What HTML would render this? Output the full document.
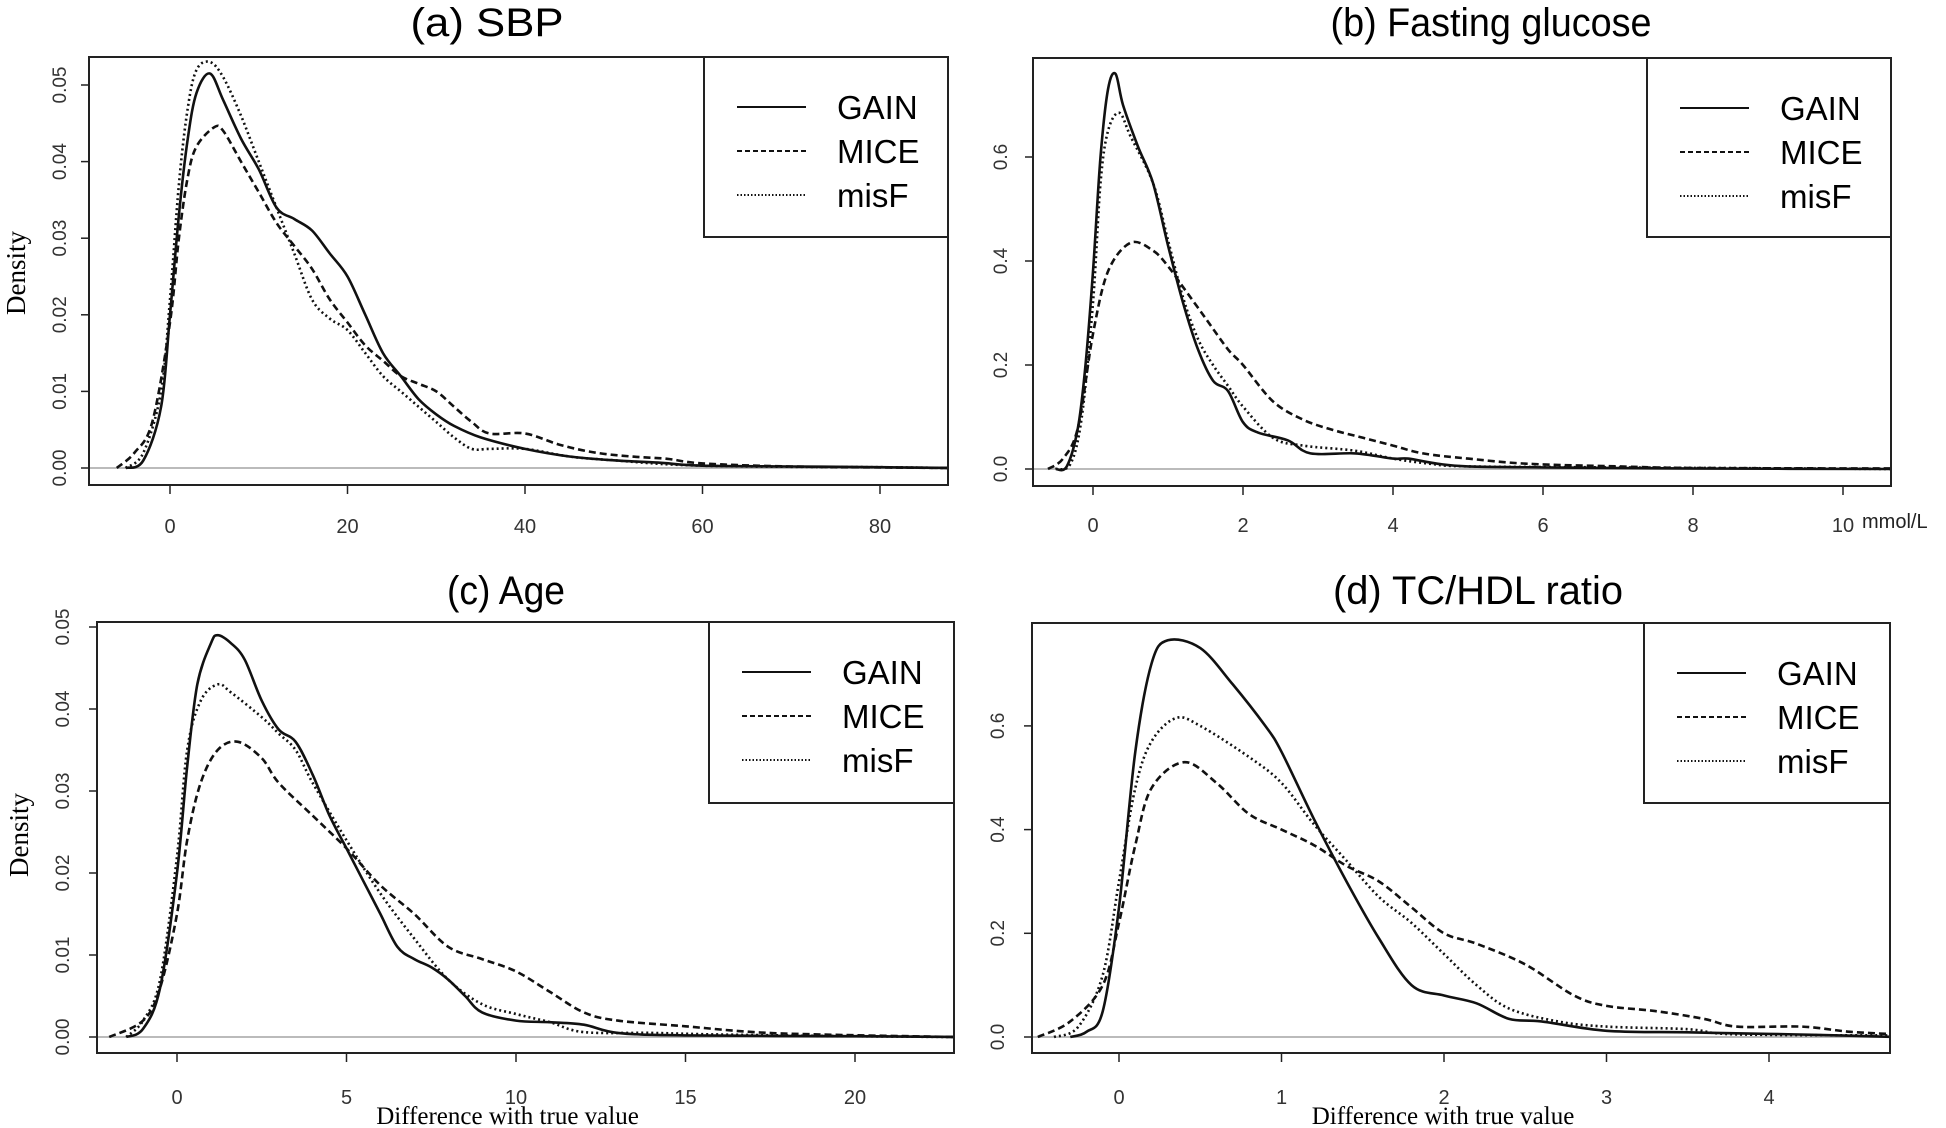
<!DOCTYPE html>
<html><head><meta charset="utf-8"><style>
html,body{margin:0;padding:0;background:#fff;}
svg{display:block;}
</style></head><body>
<svg id="s" xmlns="http://www.w3.org/2000/svg" width="1946" height="1128" viewBox="0 0 1946 1128"></svg>
<script>
const S=document.getElementById('s');
let out='';
const panels=[
{t:'(a) SBP',tw:153,tx:487,ty:22,box:[89,57,948,485],px:x=>170+8.875*x,py:y=>468-7660*y,
 yt:[0,0.01,0.02,0.03,0.04,0.05],yf:v=>v.toFixed(2),ylx:59,xt:[0,20,40,60,80],xly:525,dens:[16,273],leg:[704,237],
 s:[[[-5,0],[-3,0.001],[-1,0.008],[0,0.02],[1,0.033],[2,0.043],[3,0.049],[4.5,0.0515],[6,0.048],[8,0.043],[10,0.039],[12,0.034],[14,0.0325],[16,0.031],[18,0.028],[20,0.025],[22,0.02],[24,0.015],[26,0.012],[28,0.009],[30,0.007],[32,0.0055],[35,0.004],[40,0.0025],[45,0.0015],[50,0.001],[55,0.0007],[60,0.0003],[70,0.0002],[80,0.0001],[88,0]],
 [[-6,0],[-4,0.002],[-2,0.006],[0,0.019],[1,0.03],[2,0.038],[3,0.042],[5,0.0445],[6,0.044],[8,0.04],[10,0.036],[12,0.032],[14,0.029],[16,0.026],[18,0.022],[20,0.019],[22,0.016],[24,0.014],[26,0.012],[28,0.011],[30,0.01],[32,0.008],[34,0.006],[36,0.0045],[40,0.0045],[44,0.003],[48,0.002],[52,0.0015],[56,0.0012],[60,0.0006],[70,0.0002],[88,0]],
 [[-5,0],[-3,0.002],[-1,0.01],[0,0.022],[1,0.037],[2,0.047],[3,0.052],[4.5,0.053],[6,0.051],[8,0.046],[10,0.04],[12,0.034],[14,0.028],[16,0.022],[18,0.0195],[20,0.018],[22,0.015],[24,0.012],[26,0.01],[28,0.008],[30,0.006],[32,0.004],[34,0.0025],[36,0.0025],[40,0.0025],[45,0.0015],[50,0.001],[60,0.0003],[80,0.0001],[88,0]]]},
{t:'(b) Fasting glucose',tw:321,tx:1491,ty:22,box:[1033,58,1891,486],px:x=>1093+75*x,py:y=>469-520*y,
 yt:[0,0.2,0.4,0.6],yf:v=>v.toFixed(1),ylx:1000,xt:[0,2,4,6,8,10],xly:524,leg:[1647,237],unit:1,
 s:[[[-0.5,0],[-0.35,0.005],[-0.2,0.08],[-0.1,0.2],[0,0.38],[0.1,0.6],[0.2,0.73],[0.3,0.76],[0.4,0.7],[0.6,0.62],[0.8,0.55],[1,0.43],[1.2,0.32],[1.4,0.23],[1.6,0.17],[1.8,0.15],[2,0.09],[2.2,0.07],[2.6,0.055],[2.9,0.03],[3.5,0.03],[4,0.02],[4.2,0.02],[4.6,0.01],[5,0.005],[6,0.003],[7,0.002],[8,0.001],[10.7,0]],
 [[-0.6,0],[-0.4,0.02],[-0.2,0.08],[0,0.26],[0.2,0.38],[0.5,0.435],[0.8,0.42],[1,0.39],[1.2,0.35],[1.5,0.29],[1.8,0.23],[2,0.2],[2.4,0.13],[2.8,0.095],[3.2,0.075],[3.6,0.06],[4,0.045],[4.4,0.03],[5,0.02],[5.8,0.01],[7,0.005],[8,0.002],[10.7,0.001]],
 [[-0.5,0],[-0.3,0.01],[-0.15,0.1],[0,0.32],[0.1,0.55],[0.2,0.65],[0.35,0.685],[0.5,0.64],[0.8,0.55],[1,0.44],[1.2,0.33],[1.4,0.25],[1.6,0.2],[1.8,0.16],[2,0.12],[2.4,0.06],[2.8,0.045],[3.5,0.035],[4,0.02],[4.5,0.01],[5,0.005],[7,0.003],[10.7,0]]]},
{t:'(c) Age',tw:118,tx:506,ty:590,box:[97,622,954,1053],px:x=>177+33.9*x,py:y=>1037-8200*y,
 yt:[0,0.01,0.02,0.03,0.04,0.05],yf:v=>v.toFixed(2),ylx:62,xt:[0,5,10,15,20],xly:1096,dens:[19,835],xlab:1,leg:[709,803],
 s:[[[-1.5,0],[-1,0.001],[-0.5,0.006],[0,0.02],[0.3,0.033],[0.6,0.043],[1,0.048],[1.2,0.049],[1.6,0.048],[2,0.046],[2.5,0.041],[3,0.0375],[3.5,0.036],[4,0.032],[4.5,0.027],[5,0.023],[5.5,0.019],[6,0.015],[6.5,0.011],[7,0.0095],[7.5,0.0085],[8,0.007],[8.5,0.005],[9,0.003],[10,0.002],[11,0.0018],[12,0.0015],[13,0.0005],[15,0.0002],[20,0.0001],[23,0]],
 [[-2,0],[-1,0.002],[-0.5,0.006],[0,0.015],[0.3,0.024],[0.7,0.031],[1.2,0.035],[1.8,0.036],[2.5,0.034],[3,0.031],[4,0.027],[5,0.023],[6,0.0185],[7,0.015],[8,0.011],[9,0.0095],[10,0.008],[11,0.0055],[12,0.003],[13,0.002],[15,0.0013],[17,0.0006],[19,0.0003],[23,0]],
 [[-1.5,0],[-1,0.002],[-0.5,0.007],[0,0.022],[0.3,0.035],[0.7,0.041],[1.2,0.043],[1.6,0.042],[2.5,0.039],[3,0.037],[3.5,0.035],[4,0.031],[5,0.024],[6,0.0175],[7,0.012],[8,0.007],[9,0.004],[10,0.0028],[11,0.0018],[12,0.0006],[14,0.0005],[16,0.0003],[20,0.0001],[23,0]]]},
{t:'(d) TC/HDL ratio',tw:290,tx:1478,ty:590,box:[1032,623,1890,1053],px:x=>1119+162.5*x,py:y=>1037-518.5*y,
 yt:[0,0.2,0.4,0.6],yf:v=>v.toFixed(1),ylx:997,xt:[0,1,2,3,4],xly:1096,xlab:1,leg:[1644,803],
 s:[[[-0.3,0],[-0.2,0.01],[-0.1,0.05],[0,0.25],[0.1,0.55],[0.2,0.72],[0.3,0.765],[0.5,0.75],[0.7,0.68],[0.9,0.6],[1,0.55],[1.2,0.42],[1.4,0.3],[1.6,0.19],[1.8,0.1],[2,0.08],[2.2,0.065],[2.4,0.035],[2.6,0.03],[3,0.012],[3.5,0.009],[4,0.006],[4.3,0.004],[4.8,0]],
 [[-0.5,0],[-0.3,0.03],[-0.1,0.1],[0,0.22],[0.1,0.37],[0.2,0.48],[0.4,0.53],[0.6,0.49],[0.8,0.43],[1,0.4],[1.2,0.37],[1.4,0.33],[1.6,0.3],[1.8,0.25],[2,0.2],[2.2,0.18],[2.5,0.14],[2.8,0.08],[3,0.06],[3.3,0.05],[3.6,0.035],[3.8,0.02],[4.2,0.02],[4.5,0.01],[4.8,0.005]],
 [[-0.4,0],[-0.25,0.02],[-0.1,0.12],[0,0.3],[0.1,0.48],[0.2,0.57],[0.35,0.615],[0.5,0.6],[0.8,0.54],[1,0.49],[1.2,0.41],[1.4,0.34],[1.6,0.27],[1.8,0.22],[2,0.16],[2.2,0.1],[2.4,0.055],[2.7,0.03],[3,0.02],[3.5,0.015],[3.8,0.005],[4.8,0.003]]]}
];
const dash=['','7,4','2,3'];
function path(pts){
 let d='M'+pts[0][0].toFixed(1)+','+pts[0][1].toFixed(1);
 for(let i=0;i<pts.length-1;i++){
  const p0=pts[Math.max(0,i-1)],p1=pts[i],p2=pts[i+1],p3=pts[Math.min(pts.length-1,i+2)];
  const c1=[p1[0]+(p2[0]-p0[0])/6,p1[1]+(p2[1]-p0[1])/6],c2=[p2[0]-(p3[0]-p1[0])/6,p2[1]-(p3[1]-p1[1])/6];
  d+=' C'+c1.map(v=>v.toFixed(1))+' '+c2.map(v=>v.toFixed(1))+' '+p2.map(v=>v.toFixed(1));
 }
 return d;
}
const NF='font-family="Liberation Sans Narrow, Liberation Sans, sans-serif"';
panels.forEach((p,k)=>{
 const [l,t,r,b]=p.box;
 out+=`<clipPath id="c${k}"><rect x="${l}" y="${t}" width="${r-l}" height="${b-t}"/></clipPath>`;
 out+=`<text x="${p.tx-p.tw/2}" y="${p.ty+14}" textLength="${p.tw}" lengthAdjust="spacingAndGlyphs" font-size="40" ${NF}>${p.t}</text>`;
 const zy=p.py(0);
 out+=`<line x1="${l}" x2="${r}" y1="${zy}" y2="${zy}" stroke="#bbb" stroke-width="2"/>`;
 p.s.forEach((ser,j)=>{
  const pts=ser.map(q=>[p.px(q[0]),p.py(q[1])]);
  out+=`<path d="${path(pts)}" fill="none" stroke="#111" stroke-width="2.6" ${dash[j]?'stroke-dasharray="'+dash[j]+'"':''} clip-path="url(#c${k})"/>`;
 });
 out+=`<rect x="${l}" y="${t}" width="${r-l}" height="${b-t}" fill="none" stroke="#222" stroke-width="2"/>`;
 p.yt.forEach(v=>{const y=p.py(v);
  out+=`<line x1="${l-8}" x2="${l}" y1="${y}" y2="${y}" stroke="#222" stroke-width="1.5"/>`;
  out+=`<text transform="translate(${p.ylx+7},${y}) rotate(-90)" text-anchor="middle" font-size="19" fill="#333" font-family="Liberation Sans, sans-serif">${p.yf(v)}</text>`;});
 p.xt.forEach(v=>{const x=p.px(v);
  out+=`<line x1="${x}" x2="${x}" y1="${b}" y2="${b+9}" stroke="#222" stroke-width="1.5"/>`;
  out+=`<text x="${x}" y="${p.xly+8}" text-anchor="middle" font-size="20" fill="#333" ${NF}>${v}</text>`;});
 if(p.unit) out+=`<text x="1862" y="${p.xly+4}" font-size="20" fill="#222" ${NF}>mmol/L</text>`;
 if(p.dens) out+=`<text transform="translate(${p.dens[0]+9},${p.dens[1]}) rotate(-90)" text-anchor="middle" font-size="27" font-family="Liberation Serif, serif">Density</text>`;
 if(p.xlab) out+=`<text x="${(l+r)/2-18}" y="1124" text-anchor="middle" font-size="25" font-family="Liberation Serif, serif">Difference with true value</text>`;
 const [lx,lb]=p.leg;
 out+=`<rect x="${lx}" y="${t}" width="${r-lx}" height="${lb-t}" fill="#fff" stroke="#222" stroke-width="2"/>`;
 ['GAIN','MICE','misF'].forEach((n,j)=>{const y=t+50+j*44;
  out+=`<line x1="${lx+33}" x2="${lx+102}" y1="${y}" y2="${y}" stroke="#111" stroke-width="2" ${dash[j]?'stroke-dasharray="'+(j==1?'5,3':'1.5,2')+'"':''}/>`;
  out+=`<text x="${lx+133}" y="${y+12}" font-size="33" font-family="Liberation Sans, sans-serif">${n}</text>`;});
});
S.innerHTML=out;
</script>
</body></html>
